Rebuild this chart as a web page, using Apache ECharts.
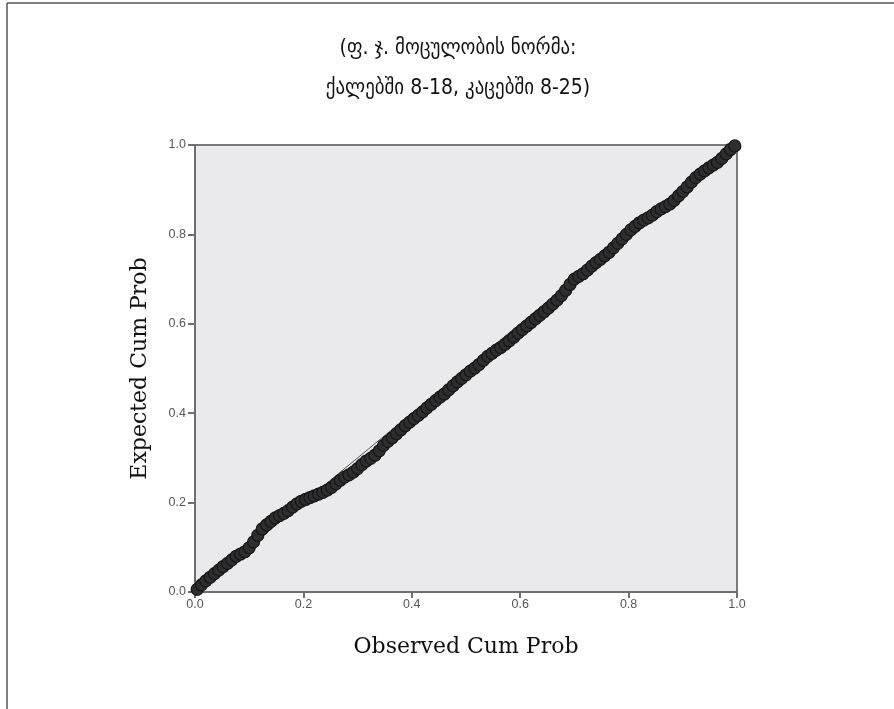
<!DOCTYPE html>
<html>
<head>
<meta charset="utf-8">
<script src="https://cdn.jsdelivr.net/npm/echarts@6/dist/echarts.min.js"></script>
<style>
html,body{margin:0;padding:0;background:#fff;}
#chart{width:894px;height:709px;}
</style>
</head>
<body>
<div id="chart"></div>
<script>
const titleLines = ['(ფ. ჯ. მოცულობის ნორმა:', 'ქალებში 8-18, კაცებში 8-25)'];
const xAxisName = 'Observed Cum Prob';
const yAxisName = 'Expected Cum Prob';
const tickValues = [0.0, 0.2, 0.4, 0.6, 0.8, 1.0];

const observed = [0.004,0.012,0.020,0.028,0.036,0.044,0.052,0.060,0.068,0.076,0.084,0.092,0.100,0.108,0.116,0.124,0.132,0.140,0.148,0.156,0.164,0.172,0.180,0.188,0.196,0.204,0.212,0.220,0.228,0.236,0.244,0.252,0.260,0.268,0.276,0.284,0.292,0.300,0.308,0.316,0.324,0.332,0.340,0.348,0.356,0.364,0.372,0.380,0.388,0.396,0.404,0.412,0.420,0.428,0.436,0.444,0.452,0.460,0.468,0.476,0.484,0.492,0.500,0.508,0.516,0.524,0.532,0.540,0.548,0.556,0.564,0.572,0.580,0.588,0.596,0.604,0.612,0.620,0.628,0.636,0.644,0.652,0.660,0.668,0.676,0.684,0.692,0.700,0.708,0.716,0.724,0.732,0.740,0.748,0.756,0.764,0.772,0.780,0.788,0.796,0.804,0.812,0.820,0.828,0.836,0.844,0.852,0.860,0.868,0.876,0.884,0.892,0.900,0.908,0.916,0.924,0.932,0.940,0.948,0.956,0.964,0.972,0.980,0.988,0.996];
const expected = [0.006,0.016,0.025,0.033,0.041,0.049,0.057,0.064,0.072,0.080,0.085,0.090,0.099,0.112,0.127,0.141,0.150,0.158,0.166,0.171,0.176,0.182,0.190,0.197,0.203,0.207,0.211,0.215,0.219,0.223,0.228,0.234,0.242,0.250,0.257,0.262,0.268,0.276,0.285,0.293,0.299,0.306,0.316,0.328,0.337,0.345,0.354,0.363,0.372,0.380,0.388,0.395,0.403,0.412,0.420,0.428,0.436,0.443,0.452,0.461,0.470,0.478,0.486,0.494,0.501,0.509,0.518,0.527,0.534,0.541,0.547,0.554,0.562,0.570,0.579,0.587,0.595,0.603,0.611,0.619,0.627,0.635,0.644,0.653,0.663,0.675,0.688,0.700,0.706,0.712,0.720,0.729,0.737,0.744,0.752,0.760,0.770,0.780,0.790,0.800,0.810,0.818,0.826,0.832,0.837,0.843,0.851,0.857,0.862,0.868,0.876,0.886,0.896,0.906,0.917,0.927,0.935,0.942,0.949,0.955,0.961,0.970,0.980,0.990,0.998];
const refLine = [[0, 0], [1, 1]];

const points = observed.map((x, i) => [x, expected[i]]);

const chart = echarts.init(document.getElementById('chart'), null, {renderer: 'canvas'});
const axisLabelStyle = {color: '#555', fontFamily: 'Liberation Sans, Arial, sans-serif', fontSize: 12.5};
chart.setOption({
  animation: false,
  backgroundColor: '#fff',
  title: {
    text: titleLines.join('\n'),
    left: 453, top: 24, textAlign: 'center',
    textStyle: {fontFamily: 'DejaVu Sans Condensed, DejaVu Sans, sans-serif', fontSize: 21, fontWeight: 'normal', color: '#111', lineHeight: 40}
  },
  graphic: [
    {type: 'line', shape: {x1: 7, y1: 3, x2: 894, y2: 3}, style: {stroke: '#555', lineWidth: 1.5}},
    {type: 'line', shape: {x1: 7, y1: 3, x2: 7, y2: 709}, style: {stroke: '#555', lineWidth: 1.5}}
  ],
  grid: {left: 195, right: 157, top: 145, bottom: 117, show: true, backgroundColor: '#EAEAEC', borderColor: '#7a7a7a', borderWidth: 2},
  xAxis: {
    type: 'value', min: 0, max: 1, interval: 0.2,
    name: xAxisName, nameLocation: 'middle', nameGap: 44,
    nameTextStyle: {fontFamily: 'DejaVu Serif, serif', fontSize: 22, color: '#111'},
    axisLine: {show: true, lineStyle: {color: '#6e6e6e', width: 2}},
    axisTick: {show: true, length: 6, lineStyle: {color: '#6e6e6e', width: 2}},
    axisLabel: Object.assign({margin: 6, formatter: v => v.toFixed(1)}, axisLabelStyle),
    splitLine: {show: false}
  },
  yAxis: {
    type: 'value', min: 0, max: 1, interval: 0.2,
    name: yAxisName, nameLocation: 'middle', nameGap: 44,
    nameTextStyle: {fontFamily: 'DejaVu Serif, serif', fontSize: 22, color: '#111'},
    axisLine: {show: true, lineStyle: {color: '#6e6e6e', width: 2}},
    axisTick: {show: true, length: 7, lineStyle: {color: '#6e6e6e', width: 2}},
    axisLabel: Object.assign({margin: 9, formatter: v => v.toFixed(1)}, axisLabelStyle),
    splitLine: {show: false}
  },
  series: [
    {type: 'line', data: refLine, showSymbol: false, symbol: 'none', lineStyle: {color: '#555', width: 1}, z: 1},
    {type: 'scatter', data: points, symbol: 'circle', symbolSize: 12,
     itemStyle: {color: '#2e2e2e', borderColor: '#161616', borderWidth: 1.2, opacity: 1}, z: 2}
  ]
});
</script>
</body>
</html>
